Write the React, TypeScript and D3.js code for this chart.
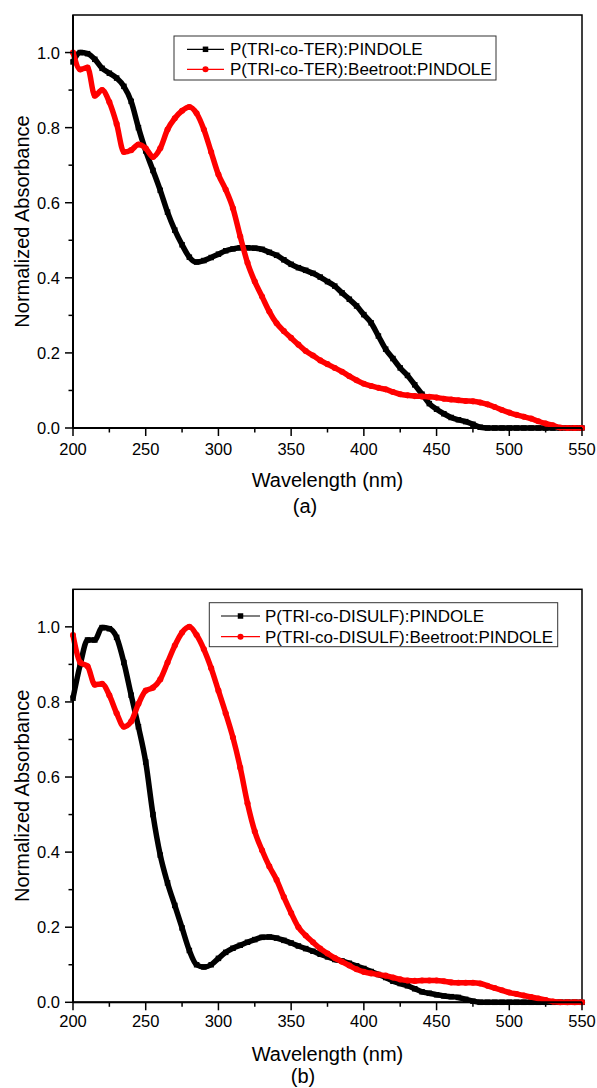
import React from "react";
import * as d3 from "d3";

const wavelengths = [
  200, 205, 210, 215, 220, 225, 230, 235, 240, 245, 250, 255, 260, 265, 270, 275, 280, 285, 290, 295,
  300, 305, 310, 315, 320, 325, 330, 335, 340, 345, 350, 355, 360, 365, 370, 375, 380, 385, 390, 395,
  400, 405, 410, 415, 420, 425, 430, 435, 440, 445, 450, 455, 460, 465, 470, 475, 480, 485, 490, 495,
  500, 505, 510, 515, 520, 525, 530, 535, 540, 545, 550,
];

// Panel (a)
const terPindole = [
  0.975, 1.0, 0.997, 0.982, 0.958, 0.945, 0.932, 0.91, 0.87, 0.8, 0.738, 0.686, 0.633, 0.575, 0.527, 0.488, 0.455, 0.442, 0.446, 0.454,
  0.463, 0.472, 0.477, 0.48, 0.48, 0.479, 0.476, 0.468, 0.46, 0.448, 0.436, 0.427, 0.42, 0.412, 0.402, 0.39, 0.378, 0.36, 0.343, 0.325,
  0.302, 0.28, 0.245, 0.21, 0.185, 0.16, 0.14, 0.115, 0.09, 0.065, 0.05, 0.038, 0.028, 0.022, 0.017, 0.01, 0.002, 0, 0, 0,
  0, 0, 0, 0, 0, 0, 0, 0, 0, 0, 0,
];
const terBeetroot = [
  1.0, 0.955, 0.96, 0.885, 0.9, 0.868, 0.81, 0.735, 0.74, 0.755, 0.745, 0.722, 0.745, 0.795, 0.825, 0.845, 0.855, 0.838, 0.795, 0.735,
  0.675, 0.635, 0.585, 0.51, 0.44, 0.39, 0.35, 0.31, 0.279, 0.258, 0.24, 0.222, 0.205, 0.193, 0.18, 0.17, 0.16, 0.15, 0.138, 0.127,
  0.118, 0.112, 0.107, 0.103, 0.096, 0.09, 0.087, 0.085, 0.084, 0.083, 0.081, 0.078, 0.076, 0.074, 0.072, 0.071, 0.068, 0.063, 0.056, 0.048,
  0.041, 0.035, 0.03, 0.025, 0.018, 0.012, 0.007, 0.001, 0, 0, 0,
];

// Panel (b)
const disulfPindole = [
  0.81, 0.9, 0.965, 0.965, 0.998, 0.995, 0.972, 0.905, 0.818, 0.734, 0.64, 0.5, 0.392, 0.318, 0.258, 0.198, 0.138, 0.1, 0.094, 0.1,
  0.117, 0.133, 0.144, 0.152, 0.16, 0.167, 0.173, 0.174, 0.171, 0.165, 0.158, 0.15, 0.143, 0.136, 0.128, 0.121, 0.114, 0.11, 0.104, 0.097,
  0.09, 0.082, 0.074, 0.066, 0.056, 0.05, 0.044, 0.036, 0.028, 0.024, 0.02, 0.017, 0.015, 0.013, 0.008, 0.003, 0, 0, 0, 0,
  0, 0, 0, 0, 0, 0, 0, 0, 0, 0, 0,
];
const disulfBeetroot = [
  0.978, 0.905, 0.895, 0.846, 0.848, 0.818, 0.77, 0.734, 0.748, 0.795, 0.83, 0.838, 0.86, 0.905, 0.95, 0.985, 1.0, 0.978, 0.94, 0.89,
  0.83, 0.77, 0.705, 0.625, 0.53, 0.455, 0.405, 0.362, 0.326, 0.28, 0.238, 0.2, 0.178, 0.16, 0.143, 0.13, 0.118, 0.108, 0.098, 0.088,
  0.081, 0.077, 0.074, 0.071, 0.066, 0.061, 0.058, 0.057, 0.058, 0.058, 0.058, 0.056, 0.053, 0.052, 0.052, 0.052, 0.05, 0.044, 0.038, 0.032,
  0.026, 0.022, 0.018, 0.014, 0.01, 0.006, 0.002, 0, 0, 0, 0,
];

const xTicks = [200, 250, 300, 350, 400, 450, 500, 550];
const xMinorTicks = [225, 275, 325, 375, 425, 475, 525];
const yTicks = [0.0, 0.2, 0.4, 0.6, 0.8, 1.0];
const yMinorTicks = [0.1, 0.3, 0.5, 0.7, 0.9];

const FONT = "'Liberation Sans', Arial, sans-serif";

type Series = { label: string; values: number[]; color: string; shape: "square" | "circle" };

type PanelProps = {
  top: number;
  series: Series[];
  legend: { x0: number; y0: number; x1: number; y1: number; lineX0: number; lineX1: number; textX: number; rowY: number[] };
  tickLabelOffset: number;
  panelLabel: string;
  panelLabelX: number;
  panelLabelOffset: number;
};

function Marker({ shape, x, y, color, size }: { shape: string; x: number; y: number; color: string; size: number }) {
  if (shape === "square") {
    return <rect x={x - size / 2} y={y - size / 2} width={size} height={size} fill={color} />;
  }
  return <circle cx={x} cy={y} r={size / 2 + 0.3} fill={color} />;
}

function Panel({ top, series, legend, tickLabelOffset, panelLabel, panelLabelX, panelLabelOffset }: PanelProps) {
  const left = 73;
  const right = 582;
  const height = 413;
  const bottom = top + height;
  const x = d3.scaleLinear().domain([200, 550]).range([left, right]);
  const y = d3.scaleLinear().domain([0, 1.1]).range([bottom, top]);
  const line = d3
    .line<number>()
    .x((_, i) => x(wavelengths[i]))
    .y((d) => y(d))
    .curve(d3.curveMonotoneX);

  return (
    <g>
      <rect x={left} y={top} width={right - left} height={height} fill="none" stroke="#000" strokeWidth={1.5} />
      {series.map((s) => (
        <g key={s.label}>
          <path d={line(s.values) || ""} fill="none" stroke={s.color} strokeWidth={5.5} strokeLinejoin="round" />
          {s.values.map((v, i) => (
            <Marker key={i} shape={s.shape} x={x(wavelengths[i])} y={y(v)} color={s.color} size={5.5} />
          ))}
        </g>
      ))}
      <line x1={left} x2={right} y1={bottom} y2={bottom} stroke="#000" strokeWidth={2} />
      <line x1={left} x2={left} y1={top} y2={bottom} stroke="#000" strokeWidth={2} />
      {xTicks.map((t) => (
        <g key={"xt" + t}>
          <line x1={x(t)} x2={x(t)} y1={bottom} y2={bottom + 8} stroke="#000" strokeWidth={1.5} />
          <text x={x(t)} y={bottom + tickLabelOffset} textAnchor="middle" fontFamily={FONT} fontSize={16.5} fill="#000">
            {t}
          </text>
        </g>
      ))}
      {xMinorTicks.map((t) => (
        <line key={"xm" + t} x1={x(t)} x2={x(t)} y1={bottom} y2={bottom + 4.5} stroke="#000" strokeWidth={1.5} />
      ))}
      {yTicks.map((t) => (
        <g key={"yt" + t}>
          <line x1={left - 8} x2={left} y1={y(t)} y2={y(t)} stroke="#000" strokeWidth={1.5} />
          <text x={60} y={y(t) + 6} textAnchor="end" fontFamily={FONT} fontSize={16.5} fill="#000">
            {t.toFixed(1)}
          </text>
        </g>
      ))}
      {yMinorTicks.map((t) => (
        <line key={"ym" + t} x1={left - 4.5} x2={left} y1={y(t)} y2={y(t)} stroke="#000" strokeWidth={1.5} />
      ))}
      <text x={(left + right) / 2} y={bottom + 59} textAnchor="middle" fontFamily={FONT} fontSize={20} fill="#000">
        Wavelength (nm)
      </text>
      <text
        transform={`translate(28.5, ${(top + bottom) / 2}) rotate(-90)`}
        textAnchor="middle"
        fontFamily={FONT}
        fontSize={20}
        fill="#000"
      >
        Normalized Absorbance
      </text>
      <text x={panelLabelX} y={bottom + panelLabelOffset} textAnchor="middle" fontFamily={FONT} fontSize={20} fill="#000">
        {panelLabel}
      </text>
      <rect
        x={legend.x0}
        y={legend.y0}
        width={legend.x1 - legend.x0}
        height={legend.y1 - legend.y0}
        fill="#fff"
        stroke="#333"
        strokeWidth={1}
      />
      {series.map((s, i) => (
        <g key={"lg" + s.label}>
          <line x1={legend.lineX0} x2={legend.lineX1} y1={legend.rowY[i]} y2={legend.rowY[i]} stroke={s.color} strokeWidth={1.2} />
          <Marker shape={s.shape} x={(legend.lineX0 + legend.lineX1) / 2} y={legend.rowY[i]} color={s.color} size={5.5} />
          <text x={legend.textX} y={legend.rowY[i] + 6} fontFamily={FONT} fontSize={17} fill="#000">
            {s.label}
          </text>
        </g>
      ))}
    </g>
  );
}

export default function App() {
  return (
    <svg
      width={597}
      height={1088}
      viewBox="0 0 597 1088"
      style={{ position: "absolute", left: 0, top: 0, background: "#fff" }}
    >
      <rect x={0} y={0} width={597} height={1088} fill="#fff" />
      <Panel
        top={15}
        series={[
          { label: "P(TRI-co-TER):PINDOLE", values: terPindole, color: "#000000", shape: "square" },
          { label: "P(TRI-co-TER):Beetroot:PINDOLE", values: terBeetroot, color: "#ff0000", shape: "circle" },
        ]}
        legend={{ x0: 174, y0: 36, x1: 496, y1: 80, lineX0: 187, lineX1: 224, textX: 230, rowY: [49.3, 69.3] }}
        tickLabelOffset={27}
        panelLabel="(a)"
        panelLabelX={305}
        panelLabelOffset={84.5}
      />
      <Panel
        top={589.3}
        series={[
          { label: "P(TRI-co-DISULF):PINDOLE", values: disulfPindole, color: "#000000", shape: "square" },
          { label: "P(TRI-co-DISULF):Beetroot:PINDOLE", values: disulfBeetroot, color: "#ff0000", shape: "circle" },
        ]}
        legend={{ x0: 209.3, y0: 602.7, x1: 557.7, y1: 646.7, lineX0: 221, lineX1: 260, textX: 265, rowY: [616, 636.7] }}
        tickLabelOffset={24.5}
        panelLabel="(b)"
        panelLabelX={303}
        panelLabelOffset={80.5}
      />
    </svg>
  );
}
